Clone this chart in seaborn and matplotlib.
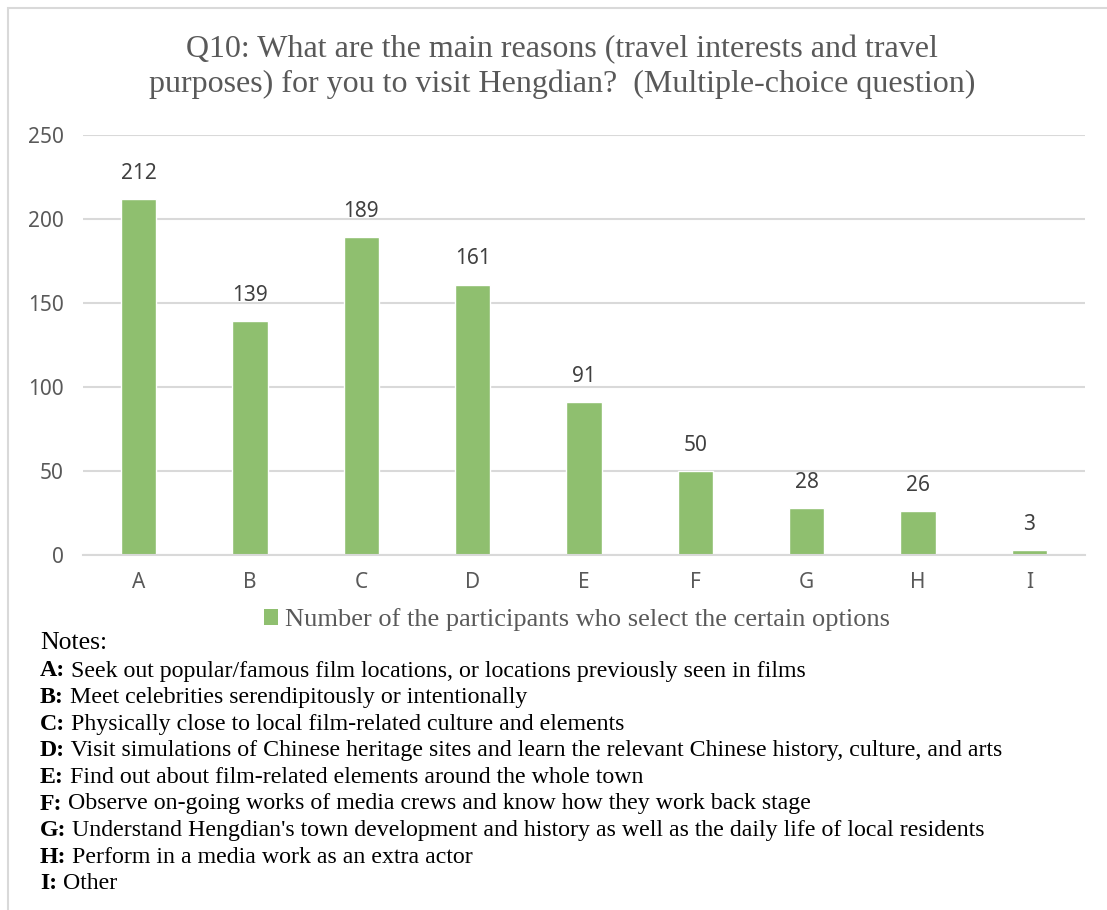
import matplotlib
matplotlib.use("Agg")
import matplotlib.pyplot as plt
import seaborn as sns
import pandas as pd
from matplotlib.patches import Rectangle, Patch

categories = ["A", "B", "C", "D", "E", "F", "G", "H", "I"]
values = [212, 139, 189, 161, 91, 50, 28, 26, 3]
yticks = [0, 50, 100, 150, 200, 250]
title = ("Q10: What are the main reasons (travel interests and travel\n"
         "purposes) for you to visit Hengdian?  (Multiple-choice question)")
legend_label = "Number of the participants who select the certain options"
note_keys = ["A:", "B:", "C:", "D:", "E:", "F:", "G:", "H:", "I:"]
note_texts = [
    "Seek out popular/famous film locations, or locations previously seen in films",
    "Meet celebrities serendipitously or intentionally",
    "Physically close to local film-related culture and elements",
    "Visit simulations of Chinese heritage sites and learn the relevant Chinese history, culture, and arts",
    "Find out about film-related elements around the whole town",
    "Observe on-going works of media crews and know how they work back stage",
    "Understand Hengdian's town development and history as well as the daily life of local residents",
    "Perform in a media work as an extra actor",
    "Other",
]

sns.set_theme(style="white")
plt.rcParams["font.family"] = ["Noto Sans", "DejaVu Sans"]

W, H = 1107, 910
fig = plt.figure(figsize=(W / 100, H / 100), dpi=100)
GREEN = "#8fbf6f"
GRID = "#d9d9d9"
GRAY = "#595959"

# outer chart border
fig.patches.append(Rectangle((8 / W, -0.01), 1.2, 1 - 8 / H + 0.01, transform=fig.transFigure,
                             fill=False, edgecolor=GRID, linewidth=1.5))

ax = fig.add_axes([83 / W, 1 - 555 / H, (1085 - 83) / W, (555 - 135) / H])
df = pd.DataFrame({"cat": categories, "val": values})
sns.barplot(data=df, x="cat", y="val", color=GREEN, saturation=1, width=0.315, ax=ax)
ax.set_xlim(-0.5, len(categories) - 0.5)
ax.set_ylim(0, 250)
ax.set_yticks(yticks)
ax.yaxis.grid(True, color=GRID, linewidth=1.5)
ax.set_axisbelow(True)
for s in ["top", "right", "left"]:
    ax.spines[s].set_visible(False)
ax.spines["bottom"].set_color(GRID)
ax.spines["bottom"].set_linewidth(1.5)
ax.set_xlabel("")
ax.set_ylabel("")
ax.tick_params(axis="both", length=0, labelsize=15, labelcolor=GRAY)
ax.tick_params(axis="x", pad=12)
ax.tick_params(axis="y", pad=14)
for c in ax.containers:
    ax.bar_label(c, labels=[str(v) for v in values], padding=11, fontsize=15, color="#404040")

fig.text(0.508, 1 - 67 / H, title, ha="center", va="center", fontsize=23,
         family="Liberation Serif", color=GRAY, linespacing=1.22)

# legend
fig.legend(handles=[Patch(facecolor=GREEN, edgecolor="none")], labels=[legend_label],
           loc="center", bbox_to_anchor=(577 / W, 1 - 620 / H), frameon=False,
           prop={"family": "Liberation Serif", "size": 19}, labelcolor=GRAY,
           handlelength=0.55, handleheight=0.55, handletextpad=0.25)

# notes
fig.text(40 / W, 1 - 643 / H, "Notes:", ha="left", va="center", fontsize=18.5,
         family="Liberation Serif", color="black")
y0 = 671
dy = 26.6
for i, (k, t) in enumerate(zip(note_keys, note_texts)):
    y = 1 - (y0 + i * dy) / H
    kt = fig.text(40 / W, y, k, ha="left", va="center", fontsize=17.2,
                  family="Liberation Serif", weight="bold", color="black")
    ax.annotate(" " + t, xy=(1, 0), xycoords=kt, ha="left", va="bottom",
                fontsize=17.2, family="Liberation Serif", color="black",
                annotation_clip=False)

fig.savefig("out.png", dpi=100)
